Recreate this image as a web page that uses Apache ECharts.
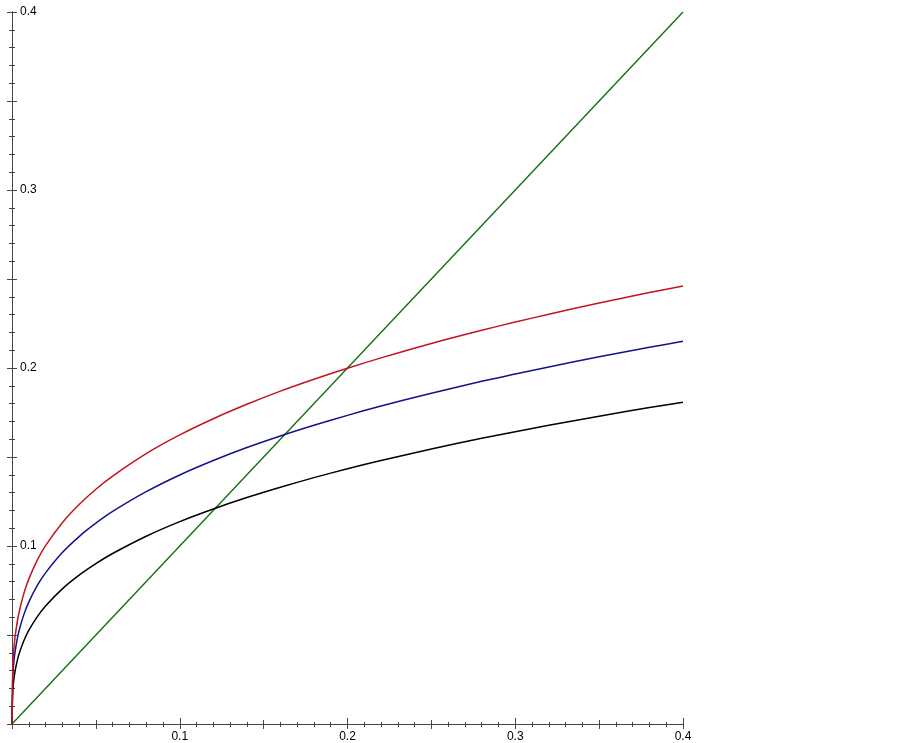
<!DOCTYPE html>
<html>
<head>
<meta charset="utf-8">
<script src="https://cdn.jsdelivr.net/npm/echarts@6/dist/echarts.min.js"></script>
<style>html,body{margin:0;padding:0;background:#fff}#c{width:902px;height:743px}</style>
</head>
<body>
<div id="c"></div>
<script>
var xs = [0, 0.0005, 0.001, 0.002, 0.004, 0.007, 0.01, 0.015, 0.02, 0.03, 0.04, 0.05, 0.06, 0.08, 0.1, 0.12, 0.14, 0.16, 0.18, 0.2, 0.22, 0.25, 0.28, 0.3, 0.32, 0.35, 0.38, 0.4];
var redY = [0, 0.0331, 0.0408, 0.0502, 0.0618, 0.0731, 0.0814, 0.0919, 0.1002, 0.1131, 0.1233, 0.1319, 0.1393, 0.1519, 0.1624, 0.1715, 0.1796, 0.1870, 0.1937, 0.1999, 0.2057, 0.2138, 0.2212, 0.2258, 0.2302, 0.2365, 0.2424, 0.2461];
var blueY = [0, 0.0271, 0.0336, 0.0416, 0.0516, 0.0613, 0.0685, 0.0777, 0.0849, 0.0963, 0.1053, 0.1128, 0.1194, 0.1305, 0.1399, 0.1480, 0.1553, 0.1618, 0.1678, 0.1734, 0.1786, 0.1858, 0.1925, 0.1966, 0.2006, 0.2063, 0.2116, 0.2150];
var blackY = [0, 0.0193, 0.0243, 0.0306, 0.0387, 0.0466, 0.0526, 0.0602, 0.0663, 0.0759, 0.0836, 0.0901, 0.0958, 0.1055, 0.1137, 0.1208, 0.1272, 0.1330, 0.1384, 0.1434, 0.1480, 0.1545, 0.1605, 0.1642, 0.1678, 0.1729, 0.1778, 0.1808];
var greenX = [0, 0.4];
var greenY = [0, 0.4];
var tickLabels = ['0.1', '0.2', '0.3', '0.4'];

function pairs(a, b) { return a.map(function (v, i) { return [v, b[i]]; }); }
function fmt(v) {
  var s = (Math.round(v * 100) / 100).toString();
  return tickLabels.indexOf(s) >= 0 ? s : '';
}
var axisLineStyle = { color: '#444', width: 1 };
var font = { fontFamily: 'Liberation Sans', fontSize: 12, color: '#000' };

function xAx(extra) {
  return Object.assign({
    type: 'value', min: 0, max: 0.4, interval: 0.05, position: 'bottom',
    axisLine: { show: true, onZero: false, lineStyle: axisLineStyle },
    splitLine: { show: false },
    axisLabel: { show: false }
  }, extra);
}
function yAx(extra) {
  return Object.assign({
    type: 'value', min: 0, max: 0.4, interval: 0.05, position: 'left',
    axisLine: { show: true, onZero: false, lineStyle: axisLineStyle },
    splitLine: { show: false },
    axisLabel: { show: false }
  }, extra);
}

var chart = echarts.init(document.getElementById('c'), null, { renderer: 'canvas' });
chart.setOption({
  animation: false,
  backgroundColor: '#fff',
  grid: { left: 12, right: 219, top: 12, bottom: 18, containLabel: false },
  xAxis: [
    xAx({
      axisTick: { show: true, inside: false, length: 5, lineStyle: axisLineStyle },
      minorTick: { show: true, splitNumber: 5, length: 3, lineStyle: axisLineStyle },
      axisLabel: Object.assign({ show: true, margin: 7, formatter: fmt, showMinLabel: true, showMaxLabel: true }, font)
    }),
    xAx({
      axisTick: { show: true, inside: true, length: 4, lineStyle: axisLineStyle },
      minorTick: { show: true, splitNumber: 5, length: 2, lineStyle: axisLineStyle }
    }),
    xAx({
      interval: 0.1,
      axisTick: { show: true, inside: true, length: 6, lineStyle: axisLineStyle },
      minorTick: { show: false }
    })
  ],
  yAxis: [
    yAx({
      axisTick: { show: true, inside: false, length: 5, lineStyle: axisLineStyle },
      minorTick: { show: true, splitNumber: 5, length: 3, lineStyle: axisLineStyle },
      axisLabel: Object.assign({ show: true, inside: true, margin: 8, formatter: fmt, verticalAlign: 'middle', padding: [0, 0, 5, 0], showMinLabel: true, showMaxLabel: true }, font)
    }),
    yAx({
      axisTick: { show: true, inside: true, length: 5, lineStyle: axisLineStyle },
      minorTick: { show: true, splitNumber: 5, length: 3, lineStyle: axisLineStyle }
    })
  ],
  series: [
    { type: 'line', name: 'green', data: pairs(greenX, greenY), showSymbol: false, lineStyle: { color: '#157015', width: 1.4 }, xAxisIndex: 0, yAxisIndex: 0, z: 2 },
    { type: 'line', name: 'black', data: pairs(xs, blackY), smooth: 0.3, showSymbol: false, lineStyle: { color: '#000000', width: 1.5 }, xAxisIndex: 0, yAxisIndex: 0, z: 3 },
    { type: 'line', name: 'blue', data: pairs(xs, blueY), smooth: 0.3, showSymbol: false, lineStyle: { color: '#12128c', width: 1.5 }, xAxisIndex: 0, yAxisIndex: 0, z: 3 },
    { type: 'line', name: 'red', data: pairs(xs, redY), smooth: 0.3, showSymbol: false, lineStyle: { color: '#c4141c', width: 1.5 }, xAxisIndex: 0, yAxisIndex: 0, z: 3 }
  ]
});
</script>
</body>
</html>
